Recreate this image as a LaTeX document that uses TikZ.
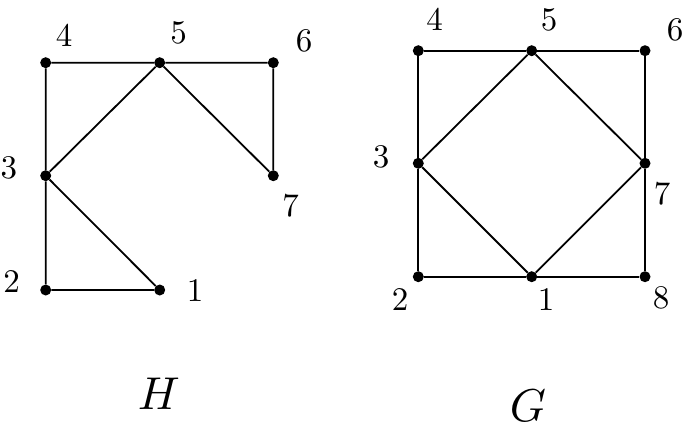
\documentclass[tikz,border=0pt]{standalone}
\font\digfont=cmr10 at 33pt
\font\namefont=cmmi10 at 46pt
\begin{document}
\begin{tikzpicture}[x=1pt,y=-1pt,
  vtx/.style={circle,fill=black,inner sep=0pt,minimum size=11pt},
  lbl/.style={inner sep=0pt,font=\digfont},
  gname/.style={inner sep=0pt,font=\namefont},
  edge/.style={line width=1.8pt}]
\useasboundingbox (0,0) rectangle (685,434);
% Graph H
\node[vtx] (h4) at (45.7,62.7) {};
\node[vtx] (h5) at (159.7,62.7) {};
\node[vtx] (h6) at (273.3,62.7) {};
\node[vtx] (h3) at (45.7,175.7) {};
\node[vtx] (h7) at (273.3,175.7) {};
\node[vtx] (h2) at (45.7,290) {};
\node[vtx] (h1) at (159.7,290) {};
\draw[edge] (h4) -- (h5) -- (h6) -- (h7) -- (h5) -- (h3) -- (h4);
\draw[edge] (h3) -- (h2) -- (h1) -- (h3);
\node[lbl] (lh4) at (64,35.5) {4};
\node[lbl] (lh5) at (178.7,32.7) {5};
\node[lbl] (lh6) at (304,40.7) {6};
\node[lbl] (lh3) at (9,167.5) {3};
\node[lbl] (lh7) at (290.5,206.3) {7};
\node[lbl] (lh2) at (11.7,282) {2};
\node[lbl] (lh1) at (195,290.8) {1};
\node[gname] (H) at (157,394) {H};
% Graph G
\node[vtx] (g4) at (418.3,50.7) {};
\node[vtx] (g5) at (531.7,50.7) {};
\node[vtx] (g6) at (645,50.7) {};
\node[vtx] (g3) at (418.3,163.3) {};
\node[vtx] (g7) at (645,163.3) {};
\node[vtx] (g2) at (418.3,276.7) {};
\node[vtx] (g1) at (531.7,276.7) {};
\node[vtx] (g8) at (645,276.7) {};
\draw[edge] (g4) -- (g5) -- (g6) -- (g7) -- (g8) -- (g1) -- (g2) -- (g3) -- (g4);
\draw[edge] (g3) -- (g5) -- (g7) -- (g1) -- (g3);
\node[lbl] (lg4) at (434.5,20) {4};
\node[lbl] (lg5) at (549,19.7) {5};
\node[lbl] (lg6) at (675,30) {6};
\node[lbl] (lg3) at (381,157) {3};
\node[lbl] (lg7) at (662,194) {7};
\node[lbl] (lg2) at (400,300) {2};
\node[lbl] (lg1) at (546,300) {1};
\node[lbl] (lg8) at (661,298) {8};
\node[gname] (G) at (528,406) {G};
\end{tikzpicture}
\end{document}
